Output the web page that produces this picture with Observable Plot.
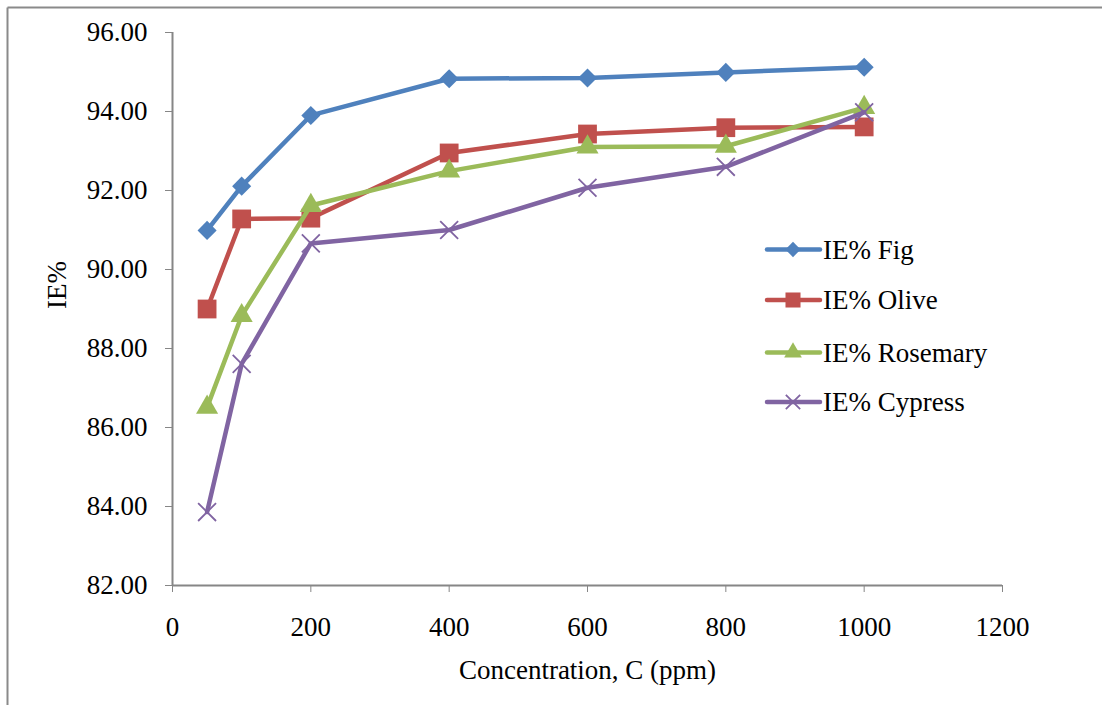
<!DOCTYPE html>
<html><head><meta charset="utf-8">
<script src="https://cdn.jsdelivr.net/npm/d3@7"></script>
<script src="https://cdn.jsdelivr.net/npm/@observablehq/plot@0.6"></script>
<style>
body{margin:0;background:#fff;}
#chart{position:relative;width:1102px;height:705px;overflow:hidden;}
</style></head><body><div id="chart"></div>
<script>
const concentrations = [50, 100, 200, 400, 600, 800, 1000];
const fig      = [90.99, 92.11, 93.90, 94.83, 94.85, 94.99, 95.12];
const olive    = [89.00, 91.28, 91.30, 92.95, 93.43, 93.59, 93.61];
const rosemary = [86.51, 88.83, 91.62, 92.49, 93.10, 93.12, 94.10];
const cypress  = [83.86, 87.61, 90.66, 91.00, 92.07, 92.60, 93.98];
const seriesNames = ["IE% Fig", "IE% Olive", "IE% Rosemary", "IE% Cypress"];
const seriesValues = [fig, olive, rosemary, cypress];
const seriesColors = ["#4F81BD", "#C0504D", "#9BBB59", "#8064A2"];
const seriesSymbols = ["diamond2", "square", "triangle", "times"];
const seriesR = [8.6, 10.6, 8.2, 8.2];
const yTicks = [82, 84, 86, 88, 90, 92, 94, 96];
const xTicks = [0, 200, 400, 600, 800, 1000, 1200];
const xLabel = "Concentration, C (ppm)";
const yLabel = "IE%";

const FONT = "'Liberation Serif','Times New Roman',serif";
const FS = 27;
const axisGray = "#868686";

const marks = [
  Plot.ruleY([82], {stroke: axisGray, strokeWidth: 2}),
  Plot.ruleX([0], {stroke: axisGray, strokeWidth: 2}),
  Plot.axisY({ticks: yTicks, tickFormat: d => d.toFixed(2), tickSize: 7, tickPadding: 18, stroke: axisGray, label: null, fill: "#000", fontSize: FS}),
  Plot.axisX({ticks: xTicks, tickFormat: d => String(d), tickSize: 7, tickPadding: 24, stroke: axisGray, label: null, fill: "#000", fontSize: FS}),
  Plot.text([xLabel], {frameAnchor: "bottom", dy: 93, text: d => d, fontSize: FS, fill: "#000"}),
  Plot.text([yLabel], {frameAnchor: "left", dx: -115, rotate: -90, text: d => d, fontSize: FS, fill: "#000"})
];

seriesNames.forEach((name, i) => {
  const rows = concentrations.map((c, j) => ({c, v: seriesValues[i][j], name}));
  marks.push(Plot.line(rows, {x: "c", y: "v", stroke: seriesColors[i], strokeWidth: 4.5, strokeLinejoin: "round"}));
  if (seriesSymbols[i] === "times") {
    marks.push(Plot.dot(rows, {x: "c", y: "v", symbol: "times", r: seriesR[i], stroke: seriesColors[i], strokeWidth: 1.8, fill: "none"}));
  } else {
    marks.push(Plot.dot(rows, {x: "c", y: "v", symbol: seriesSymbols[i], r: seriesR[i], fill: seriesColors[i], stroke: "none"}));
  }
});

const chart = Plot.plot({
  width: 1102,
  height: 705,
  marginLeft: 172,
  marginRight: 100,
  marginTop: 32,
  marginBottom: 120,
  style: {fontFamily: FONT, fontSize: FS + "px", background: "#fff", color: "#000"},
  x: {domain: [0, 1200]},
  y: {domain: [82, 96]},
  marks
});

const svg = d3.select(chart);
// outer chart-area border (top and left visible)
svg.append("line").attr("x1", 7.5).attr("x2", 1102).attr("y1", 7.5).attr("y2", 7.5).attr("stroke", "#8a8a8a").attr("stroke-width", 2);
svg.append("line").attr("x1", 7.5).attr("x2", 7.5).attr("y1", 7.5).attr("y2", 705).attr("stroke", "#8a8a8a").attr("stroke-width", 2);

// legend
const symMap = {diamond2: d3.symbolDiamond2, square: d3.symbolSquare, triangle: d3.symbolTriangle, times: d3.symbolTimes};
const legendY = [249.5, 300, 352.5, 402];
const lg = svg.append("g").attr("text-anchor", "start");
seriesNames.forEach((name, i) => {
  const y = legendY[i];
  lg.append("line").attr("x1", 767).attr("x2", 820).attr("y1", y).attr("y2", y)
    .attr("stroke", seriesColors[i]).attr("stroke-width", 4.5).attr("stroke-linecap", "round");
  const r = seriesR[i] * 0.8;
  const p = d3.symbol(symMap[seriesSymbols[i]], Math.PI * r * r)();
  const path = lg.append("path").attr("d", p).attr("transform", `translate(793,${y})`);
  if (seriesSymbols[i] === "times") path.attr("fill", "none").attr("stroke", seriesColors[i]).attr("stroke-width", 1.8);
  else path.attr("fill", seriesColors[i]);
  lg.append("text").attr("x", 823).attr("y", y).attr("dy", "0.35em").attr("text-anchor", "start")
    .attr("font-family", FONT).attr("font-size", FS).attr("fill", "#000").text(name);
});

document.getElementById("chart").appendChild(chart);
</script>
</body></html>
